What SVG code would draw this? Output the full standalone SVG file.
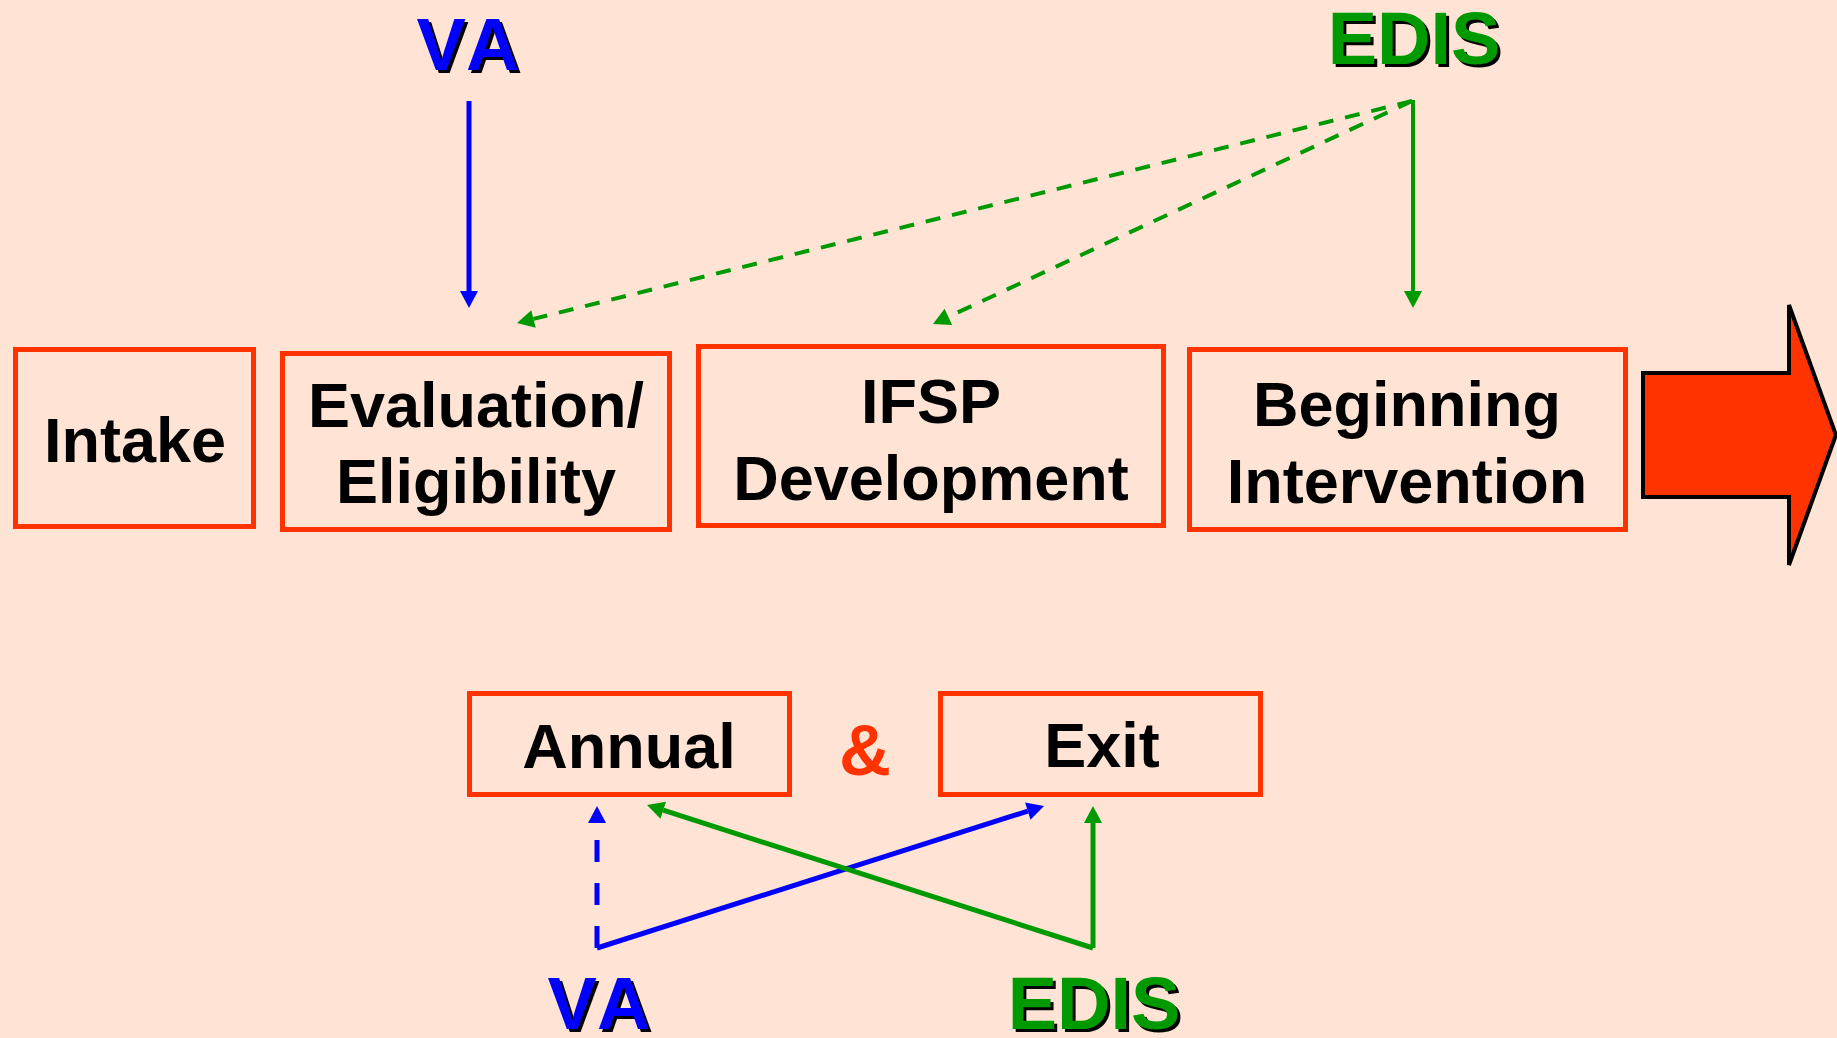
<svg xmlns="http://www.w3.org/2000/svg" width="1837" height="1038" viewBox="0 0 1837 1038">
  <style>
    .box { fill: none; stroke: #FF3300; stroke-width: 5; }
    .lbl { font-family: "Liberation Sans", Arial, sans-serif; font-weight: bold; font-size: 63px; fill: #000; text-anchor: middle; }
    .big { font-family: "Liberation Sans", Arial, sans-serif; font-weight: bold; font-size: 74px; text-anchor: middle; font-kerning: none; }
    .shadow { fill: #000; }
    .va { fill: #0000FF; }
    .edis { fill: #009900; }
    .amp { font-family: "Liberation Sans", Arial, sans-serif; font-weight: bold; font-size: 72px; fill: #FF3300; text-anchor: middle; }
    .blue { stroke: #0000FF; stroke-width: 5; fill: none; }
    .green { stroke: #009900; stroke-width: 4; fill: none; }
    .gthick { stroke-width: 5; }
    .dash { stroke-dasharray: 15 12; }
    .bdash { stroke-dasharray: 22 21; }
  </style>
  <defs>
    <marker id="ab" markerUnits="userSpaceOnUse" viewBox="0 -10 18 20" refX="0" refY="0" markerWidth="18" markerHeight="20" orient="auto" overflow="visible">
      <path d="M0,-9 L17,0 L0,9 z" fill="#0000FF"/>
    </marker>
    <marker id="ag" markerUnits="userSpaceOnUse" viewBox="0 -10 18 20" refX="0" refY="0" markerWidth="18" markerHeight="20" orient="auto" overflow="visible">
      <path d="M0,-9 L17,0 L0,9 z" fill="#009900"/>
    </marker>
  </defs>
  <rect x="0" y="0" width="1837" height="1038" fill="#FFE4D5"/>

  <g id="va-top">
    <text class="big shadow" x="471" y="73">VA</text>
    <text class="big va" x="468" y="70">VA</text>
  </g>
  <g id="edis-top">
    <text class="big shadow" x="1417" y="67">EDIS</text>
    <text class="big edis" x="1414" y="64">EDIS</text>
  </g>

  <g id="intake">
    <rect class="box" x="15.5" y="349.5" width="238" height="177"/>
    <text class="lbl" x="135" y="462">Intake</text>
  </g>
  <g id="evaluation">
    <rect class="box" x="282.5" y="353.5" width="387" height="176"/>
    <text class="lbl" x="476" y="427">Evaluation/</text>
    <text class="lbl" x="476" y="503">Eligibility</text>
  </g>
  <g id="ifsp">
    <rect class="box" x="698.5" y="346.5" width="465" height="179"/>
    <text class="lbl" x="931" y="423">IFSP</text>
    <text class="lbl" x="931" y="500">Development</text>
  </g>
  <g id="beginning">
    <rect class="box" x="1189.5" y="349.5" width="436" height="180"/>
    <text class="lbl" x="1407" y="426">Beginning</text>
    <text class="lbl" x="1407" y="503">Intervention</text>
  </g>
  <g id="big-arrow">
    <polygon points="1643,373 1789,373 1789,305 1836,435 1789,565 1789,497 1643,497" fill="#FF3300" stroke="#000" stroke-width="4" stroke-linejoin="miter"/>
  </g>

  <g id="annual">
    <rect class="box" x="469.5" y="693.5" width="320" height="101"/>
    <text class="lbl" x="629" y="768">Annual</text>
  </g>
  <g id="amp">
    <text class="amp" x="865" y="775">&amp;</text>
  </g>
  <g id="exit">
    <rect class="box" x="940.5" y="693.5" width="320" height="101"/>
    <text class="lbl" x="1102" y="767">Exit</text>
  </g>

  <g id="va-bottom">
    <text class="big shadow" x="602" y="1032">VA</text>
    <text class="big va" x="599" y="1029">VA</text>
  </g>
  <g id="edis-bottom">
    <text class="big shadow" x="1097" y="1032">EDIS</text>
    <text class="big edis" x="1094" y="1029">EDIS</text>
  </g>

  <g id="connectors">
    <line class="blue" x1="469" y1="101" x2="469" y2="291" marker-end="url(#ab)"/>
    <line class="green" x1="1413" y1="100" x2="1413" y2="291" marker-end="url(#ag)"/>
    <line class="green dash" x1="1412" y1="101" x2="533.5" y2="318.9" marker-end="url(#ag)"/>
    <line class="green dash" x1="1412" y1="101" x2="948.4" y2="316.8" marker-end="url(#ag)"/>

    <line class="blue bdash" x1="597" y1="948" x2="597" y2="823" marker-end="url(#ab)"/>
    <line class="blue" x1="597" y1="948" x2="1027.8" y2="811.1" marker-end="url(#ab)"/>
    <line class="green gthick" x1="1093" y1="948" x2="1093" y2="823" marker-end="url(#ag)"/>
    <line class="green gthick" x1="1093" y1="948" x2="663.2" y2="810.2" marker-end="url(#ag)"/>
  </g>
</svg>
